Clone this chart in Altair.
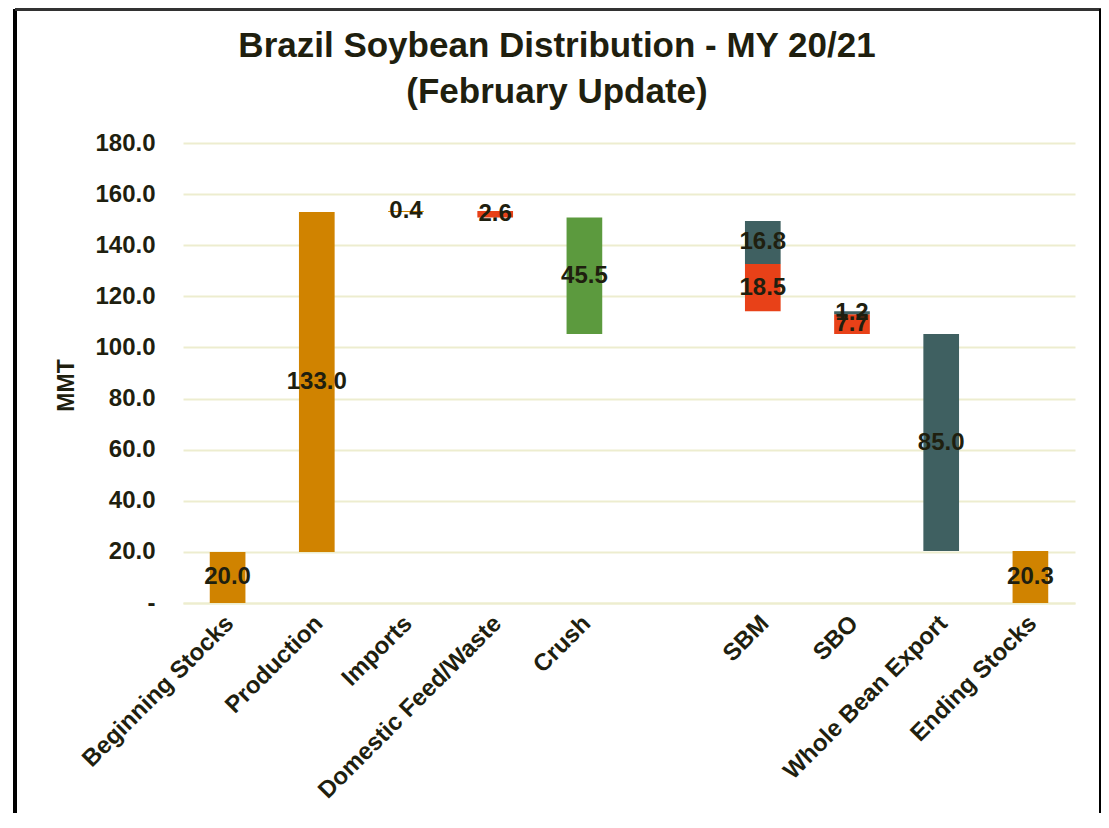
import altair as alt
import pandas as pd

# Category axis (blank slot between Crush and SBM)
categories = ["Beginning Stocks", "Production", "Imports", "Domestic Feed/Waste",
              "Crush", " ", "SBM", "SBO", "Whole Bean Export", "Ending Stocks"]

# Waterfall segments
seg_category = ["Beginning Stocks", "Production", "Imports", "Domestic Feed/Waste",
                "Crush", "SBM", "SBM", "SBO", "SBO", "Whole Bean Export", "Ending Stocks"]
seg_value = [20.0, 133.0, 0.4, 2.6, 45.5, 18.5, 16.8, 7.7, 1.2, 85.0, 20.3]
seg_base = [0.0, 20.0, 153.0, 150.8, 105.3, 114.2, 132.7, 105.3, 113.0, 20.3, 0.0]
seg_kind = ["stock", "stock", "stock", "use", "crush", "use", "export", "use", "export", "export", "stock"]

kind_domain = ["stock", "use", "crush", "export"]
kind_colors = ["#D08300", "#E84118", "#5C9A3E", "#3F6061"]

y_ticks = [0, 20, 40, 60, 80, 100, 120, 140, 160, 180]

df = pd.DataFrame({
    "category": seg_category,
    "value": seg_value,
    "base": seg_base,
    "kind": seg_kind,
})
df["top"] = df["base"] + df["value"]
df["mid"] = (df["base"] + df["top"]) / 2
df["label"] = df["value"].map(lambda v: f"{v:.1f}")

TEXT = "#1F1F0F"
FONT = "Liberation Sans"
W, H = 892, 460

x_enc = alt.X("category:N", sort=categories,
              scale=alt.Scale(domain=categories, paddingInner=0.6, paddingOuter=0.3),
              axis=alt.Axis(title=None, labelAngle=-45, labelFontSize=24, labelFont=FONT,
                            labelFontWeight="bold", labelColor=TEXT, ticks=False,
                            domain=True, domainColor="#EDEDCF", domainWidth=2,
                            labelPadding=8, labelOffset=-6, labelLimit=400))

bars = alt.Chart(df).mark_bar().encode(
    x=x_enc,
    y=alt.Y("base:Q", scale=alt.Scale(domain=[0, 180], nice=False),
            axis=alt.Axis(title="MMT", values=y_ticks, grid=True, gridColor="#EDEDCF",
                          gridWidth=2, ticks=False, domain=False,
                          labelExpr="datum.value == 0 ? '-' : format(datum.value, '.1f')",
                          labelFontSize=24, labelFont=FONT, labelFontWeight="bold",
                          labelColor=TEXT, labelPadding=28,
                          titleFontSize=23, titleFont=FONT, titleFontWeight="bold",
                          titleColor=TEXT, titleX=-117, titleY=242, titleAngle=-90,
                          titleAlign="center", titleBaseline="middle")),
    y2="top:Q",
    color=alt.Color("kind:N", scale=alt.Scale(domain=kind_domain, range=kind_colors), legend=None),
)

labels = alt.Chart(df).mark_text(font=FONT, fontSize=24, fontWeight="bold", color=TEXT,
                                 baseline="middle", align="center").encode(
    x=alt.X("category:N", sort=categories),
    y=alt.Y("mid:Q"),
    text="label:N",
)

frame_l = alt.Chart(df).mark_rule(color="black", strokeWidth=3).encode(
    x=alt.value(-168), y=alt.value(-134), y2=alt.value(700))
frame_t = alt.Chart(df).mark_rule(color="#333333", strokeWidth=3).encode(
    x=alt.value(-168), x2=alt.value(918), y=alt.value(-134))
frame_r = alt.Chart(df).mark_rule(color="black", strokeWidth=3).encode(
    x=alt.value(918), y=alt.value(-134), y2=alt.value(700))

chart = alt.layer(bars, labels, frame_l, frame_t, frame_r).properties(
    width=W, height=H,
    padding={"left": 175, "top": 135, "right": 26, "bottom": 210},
    autosize=alt.AutoSizeParams(type="none"),
    title=alt.TitleParams(text=["Brazil Soybean Distribution - MY 20/21", "(February Update)"],
                          font=FONT, fontSize=35, fontWeight="bold", color=TEXT,
                          anchor="middle", dx=-72, dy=140, offset=38, lineHeight=46),
).configure_view(stroke=None)

chart.save("out.html", embed_options={"renderer": "svg", "actions": False})
